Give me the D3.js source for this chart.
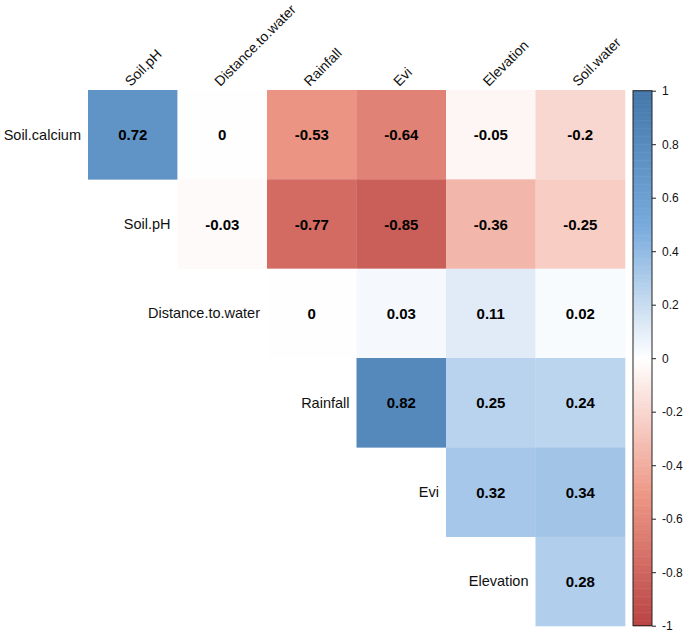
<!DOCTYPE html>
<html><head><meta charset="utf-8">
<script src="https://cdn.jsdelivr.net/npm/d3@7"></script>
<style>body{margin:0;background:#fff;} svg{display:block;}</style>
</head><body>
<script>
const rowVars = ["Soil.calcium","Soil.pH","Distance.to.water","Rainfall","Evi","Elevation"];
const colVars = ["Soil.pH","Distance.to.water","Rainfall","Evi","Elevation","Soil.water"];
// upper-triangle correlations, row by row (null = not drawn)
const rSoilCalcium = [0.72, -0.004, -0.53, -0.64, -0.05, -0.2];
const rSoilPH      = [null, -0.03, -0.77, -0.85, -0.36, -0.25];
const rDistance    = [null, null, 0.003, 0.03, 0.11, 0.02];
const rRainfall    = [null, null, null, 0.82, 0.25, 0.24];
const rEvi         = [null, null, null, null, 0.32, 0.34];
const rElevation   = [null, null, null, null, null, 0.28];
const matrix = [rSoilCalcium, rSoilPH, rDistance, rRainfall, rEvi, rElevation];
const legendTicks = [1,0.8,0.6,0.4,0.2,0,-0.2,-0.4,-0.6,-0.8,-1];
const paletteStops = ["#BB4444","#EE9988","#FFFFFF","#77AADD","#4477AA"];

const W = 685, H = 634;
const svg = d3.select("body").append("svg").attr("width", W).attr("height", H);

const x = d3.scaleBand().domain(colVars).range([88, 625]);
const y = d3.scaleBand().domain(rowVars).range([90, 626]);

const ramp = d3.scaleLinear().domain([0,0.25,0.5,0.75,1]).range(paletteStops).interpolate(d3.interpolateRgb);
const N = 200;
const cols = d3.range(N).map(i => ramp(i/(N-1)));
const colorOf = v => cols[Math.max(0, Math.min(N-1, Math.ceil((v+1)/2*(N-1))))];

const cells = [];
matrix.forEach((row, i) => row.forEach((v, j) => { if (v !== null) cells.push({r: rowVars[i], c: colVars[j], v}); }));

svg.append("g").selectAll("rect").data(cells).join("rect")
  .attr("x", d => x(d.c)).attr("y", d => y(d.r))
  .attr("width", x.bandwidth()+0.3).attr("height", y.bandwidth()+0.3)
  .attr("fill", d => colorOf(d.v));

svg.append("g").selectAll("text").data(cells).join("text")
  .attr("x", d => x(d.c) + x.bandwidth()/2)
  .attr("y", d => y(d.r) + y.bandwidth()/2)
  .attr("text-anchor","middle").attr("dominant-baseline","central")
  .attr("font-family","Liberation Sans, Arial, sans-serif").attr("font-weight","bold")
  .attr("font-size", 15).attr("fill","#000")
  .text(d => String(Math.round(d.v*100)/100));

// row labels: right of them is the first drawn cell of the row
svg.append("g").selectAll("text").data(rowVars).join("text")
  .attr("x", (d,i) => x(colVars[i]) - 7)
  .attr("y", d => y(d) + y.bandwidth()/2)
  .attr("text-anchor","end").attr("dominant-baseline","central")
  .attr("font-family","Liberation Sans, Arial, sans-serif").attr("font-size", 14.5).attr("fill","#111")
  .text(d => d);

// column labels rotated
svg.append("g").selectAll("text").data(colVars).join("text")
  .attr("transform", d => `translate(${x(d) + x.bandwidth()/2 - 2},${y.range()[0] - 3}) rotate(-45)`)
  .attr("text-anchor","start")
  .attr("font-family","Liberation Sans, Arial, sans-serif").attr("font-size", 14).attr("fill","#111")
  .text(d => d);

// colour legend
const lx = 633, lw = 19;
const ly = d3.scaleLinear().domain([1,-1]).range([90.7, 625.7]);
const lg = svg.append("g");
const step = 2/N;
lg.selectAll("rect").data(d3.range(N)).join("rect")
  .attr("x", lx).attr("width", lw)
  .attr("y", i => ly(-1 + (i+1)*step))
  .attr("height", i => ly(-1 + i*step) - ly(-1 + (i+1)*step) + 0.5)
  .attr("fill", i => cols[i]);
lg.append("rect").attr("x", lx).attr("y", ly(1)).attr("width", lw).attr("height", ly(-1)-ly(1))
  .attr("fill","none").attr("stroke","#222").attr("stroke-width",1);
const axis = d3.axisRight(ly).tickValues(legendTicks).tickSize(4).tickPadding(6)
  .tickFormat(d => String(d));
const ag = lg.append("g").attr("transform", `translate(${lx+lw},0)`).call(axis);
ag.select(".domain").remove();
ag.selectAll("line").attr("stroke","#222");
ag.selectAll("text").attr("font-family","Liberation Sans, Arial, sans-serif").attr("font-size",12).attr("fill","#111");
</script>
</body></html>
